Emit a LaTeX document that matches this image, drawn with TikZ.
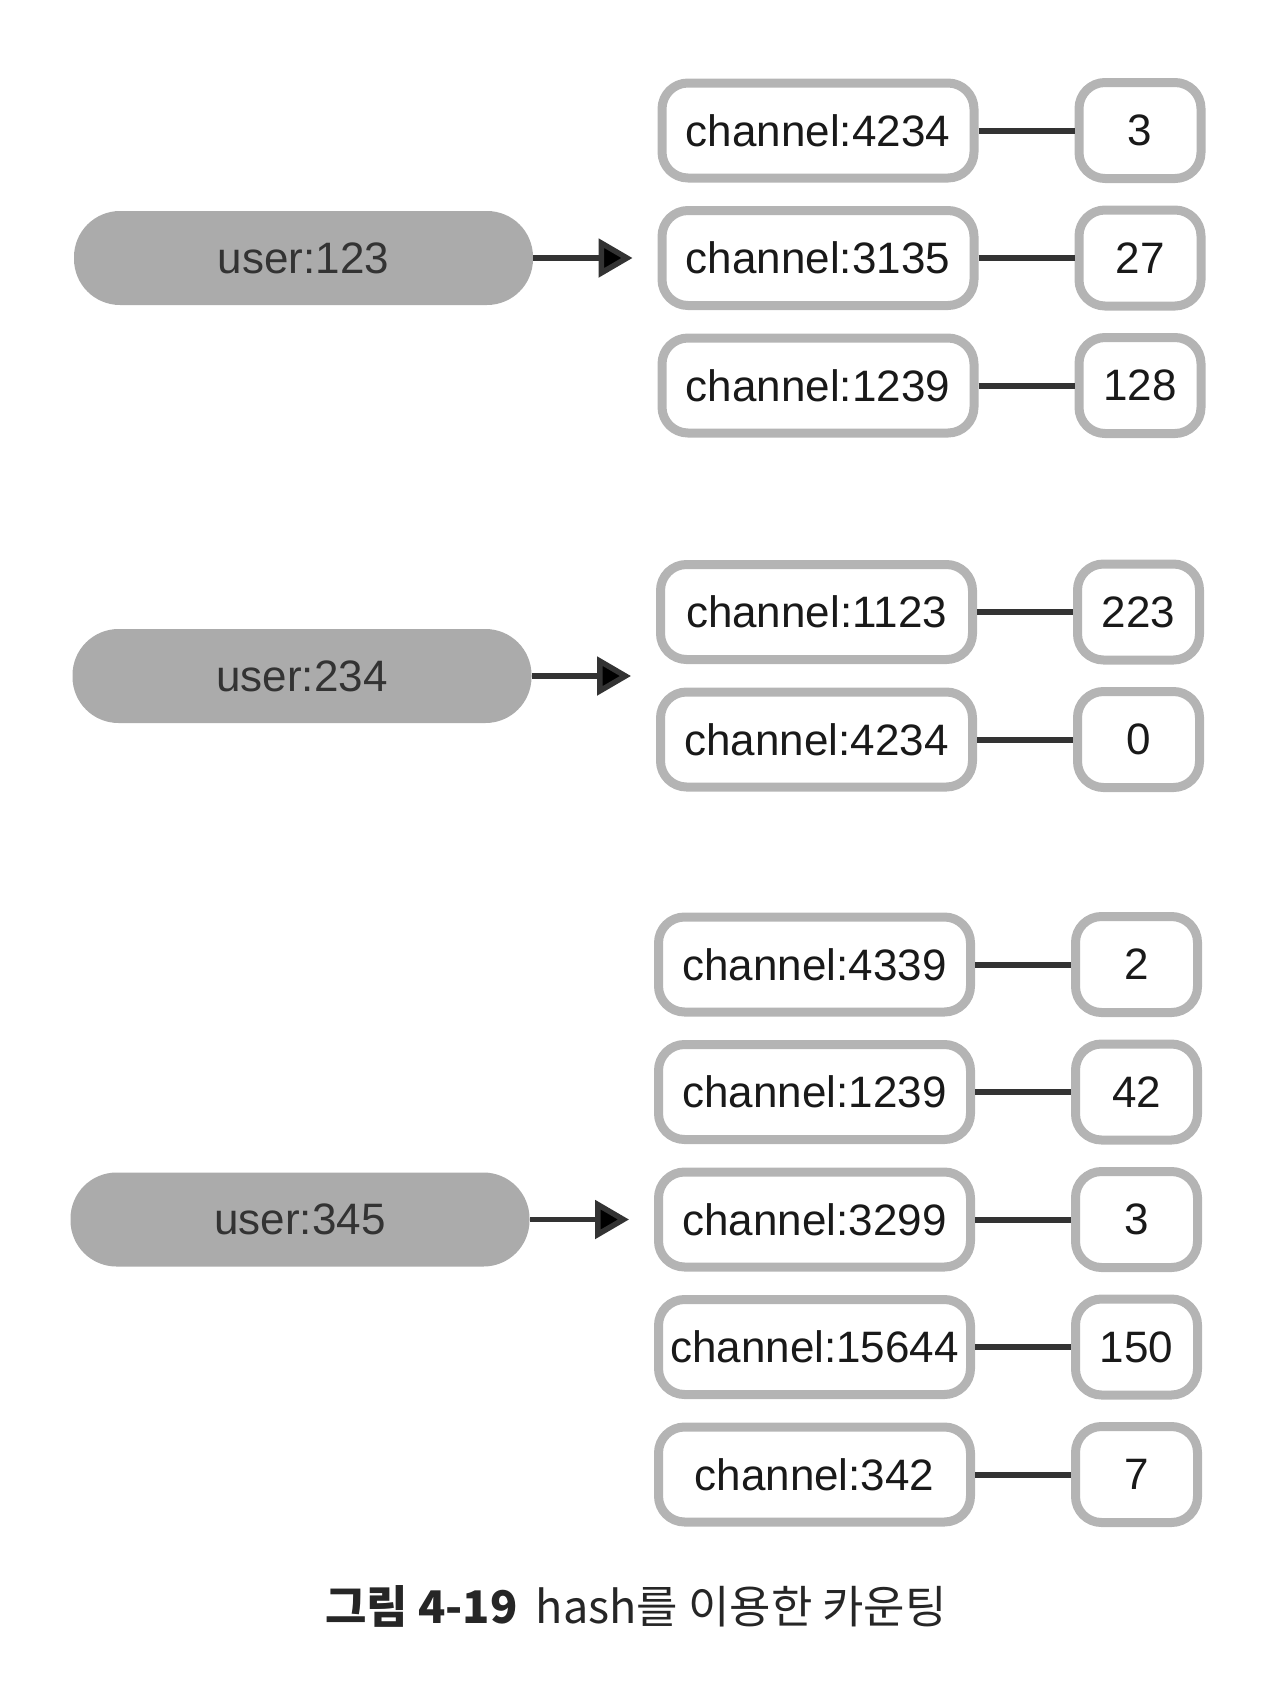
\documentclass[tikz,border=0pt]{standalone}
\usepackage{fontspec}
\setmainfont{Liberation Sans}
\newfontfamily\krfont{Noto Sans CJK KR}
\usetikzlibrary{positioning,arrows.meta}
\definecolor{pillgray}{HTML}{ABABAB}
\definecolor{rimgray}{HTML}{B4B4B4}
\definecolor{inkgray}{HTML}{333333}

\begin{document}
\begin{tikzpicture}[x=1pt,y=-1pt,node distance=127.5pt,on grid,
    user/.style={fill=pillgray,text=black!80,inner sep=4pt,minimum width=459pt,minimum height=94pt,rounded corners=46pt,font=\fontsize{44}{52}\selectfont},
    chan/.style={draw=rimgray,line width=9pt,fill=white,text=black!90,inner sep=4pt,minimum width=312pt,minimum height=95pt,rounded corners=26pt,font=\fontsize{44}{52}\selectfont},
    val/.style={chan,minimum width=122pt,minimum height=96pt},
    link/.style={draw=inkgray,line width=6pt},
    pointer/.style={draw=inkgray,line width=5.5pt,-{Triangle[length=34pt,width=38pt]},shorten >=25pt}]
    \useasboundingbox (0,0) rectangle (1280,1692);

    % first user
    \node[user](u1) at (303.5,258) {user:123};
    \node[chan, right=514.5pt of u1](c12){channel:3135};
    \node[chan, above=of c12](c11){channel:4234};
    \node[chan, below=of c12](c13){channel:1239};
    \node[val, right=322pt of c11](v11){3};
    \node[val, right=322pt of c12](v12){27};
    \node[val, right=322pt of c13](v13){128};

    % second user
    \node[user](u2) at (302,676) {user:234};
    \node[chan, above right=64pt and 514.5pt of u2](c21){channel:1123};
    \node[chan, below=of c21](c22){channel:4234};
    \node[val, right=322pt of c21](v21){223};
    \node[val, right=322pt of c22](v22){0};
    \coordinate (g2) at (u2 -| c21.west);

    % third user
    \node[user](u3) at (300,1219.5) {user:345};
    \node[chan, right=514.5pt of u3](c33){channel:3299};
    \node[chan, above=of c33](c32){channel:1239};
    \node[chan, above=of c32](c31){channel:4339};
    \node[chan, below=of c33](c34){channel:15644};
    \node[chan, below=of c34](c35){channel:342};
    \node[val, right=322pt of c31](v31){2};
    \node[val, right=322pt of c32](v32){42};
    \node[val, right=322pt of c33](v33){3};
    \node[val, right=322pt of c34](v34){150};
    \node[val, right=322pt of c35](v35){7};

    \path[pointer]
    (u1) edge (c12)
    (u2) edge (g2)
    (u3) edge (c33);
    \path[link]
    (c11) edge (v11)
    (c12) edge (v12)
    (c13) edge (v13)
    (c21) edge (v21)
    (c22) edge (v22)
    (c31) edge (v31)
    (c32) edge (v32)
    (c33) edge (v33)
    (c34) edge (v34)
    (c35) edge (v35);

    \node[text=black!85, font=\krfont\fontsize{45}{52}\selectfont](cap) at (636,1606)
        {\textbf{그림 4-19}\hspace{0.4em}hash를 이용한 카운팅};
\end{tikzpicture}
\end{document}
